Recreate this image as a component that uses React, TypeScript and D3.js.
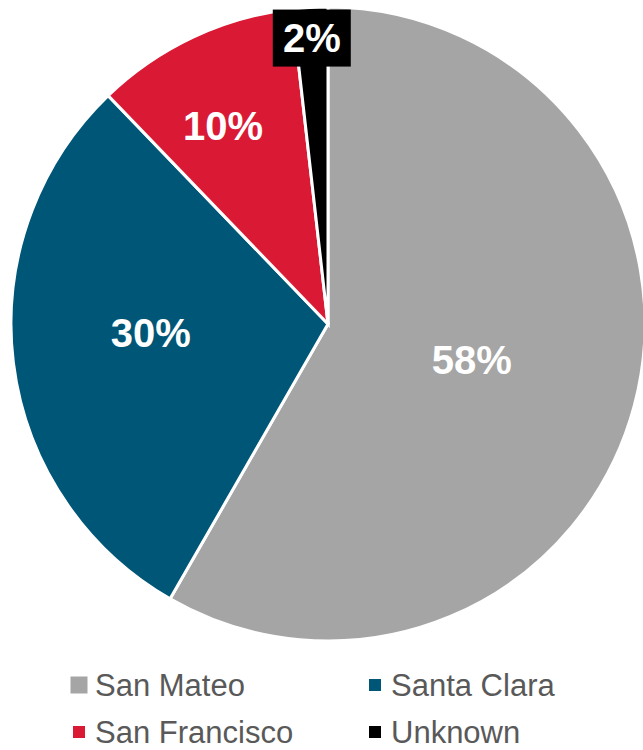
import { useEffect } from "react";
import * as d3 from "d3";

// slice shares in %, clockwise from 12 o'clock
const categories = ["San Mateo", "Santa Clara", "San Francisco", "Unknown"];
const shares = [58.3, 29.5, 10.4, 1.8];
const colors = ["#A5A5A5", "#005677", "#DA1A35", "#000000"];

// legend order (row-major, two columns)
const legendOrder = ["San Mateo", "Santa Clara", "San Francisco", "Unknown"];

const W = 643;
const H = 750;
const CX = 328;
const CY = 324;
const R = 317;
// label placement: fraction of the radius, and a small turn (degrees) off the slice's mid angle
const LABEL_R = [0.467, 0.56, 0.707, 0.905];
const LABEL_TURN = [-1, 4, -2.7, 0];
const FONT = "Arial, 'Liberation Sans', sans-serif";

export default function App() {
  useEffect(() => {
    document.body.style.margin = "0";
  }, []);

  const data = categories.map((name, i) => ({ name, value: shares[i], color: colors[i] }));
  const pie = d3
    .pie<(typeof data)[number]>()
    .value((d) => d.value)
    .sort(null);
  const arcs = pie(data);
  const arc = d3.arc<d3.PieArcDatum<(typeof data)[number]>>().innerRadius(0).outerRadius(R);

  const legendX = d3.scalePoint<number>().domain([0, 1]).range([79, 375]);
  const legendY = d3.scalePoint<number>().domain([0, 1]).range([685, 732]);

  return (
    <svg width={W} height={H} style={{ display: "block" }} fontFamily={FONT}>
      <g transform={`translate(${CX},${CY})`}>
        {arcs.map((a) => (
          <path key={a.data.name} d={arc(a) ?? ""} fill={a.data.color} stroke="#fff" strokeWidth={3} strokeLinejoin="miter" />
        ))}
        {arcs.map((a, i) => {
          const mid = (a.startAngle + a.endAngle) / 2 + (LABEL_TURN[i] * Math.PI) / 180;
          const r = R * LABEL_R[i];
          const x = Math.sin(mid) * r;
          const y = -Math.cos(mid) * r;
          const label = `${Math.round(a.data.value)}%`;
          const boxed = a.data.name === "Unknown";
          return (
            <g key={a.data.name} transform={`translate(${x},${y})`}>
              {boxed && <rect x={-39} y={-28} width={78} height={57} fill="#000" />}
              <text textAnchor="middle" dy="0.35em" fontSize={40} fontWeight="bold" fill="#fff">
                {label}
              </text>
            </g>
          );
        })}
      </g>
      <g>
        {legendOrder.map((name, i) => {
          const idx = categories.indexOf(name);
          const col = i % 2;
          const row = Math.floor(i / 2);
          const x = legendX(col) ?? 0;
          const y = legendY(row) ?? 0;
          const s = idx === 0 ? 17 : 12;
          return (
            <g key={name}>
              <rect x={x - s / 2} y={y - s / 2} width={s} height={s} fill={colors[idx]} />
              <text x={x + 16} y={y} dy="0.35em" fontSize={31} fill="#595959">
                {name}
              </text>
            </g>
          );
        })}
      </g>
    </svg>
  );
}
